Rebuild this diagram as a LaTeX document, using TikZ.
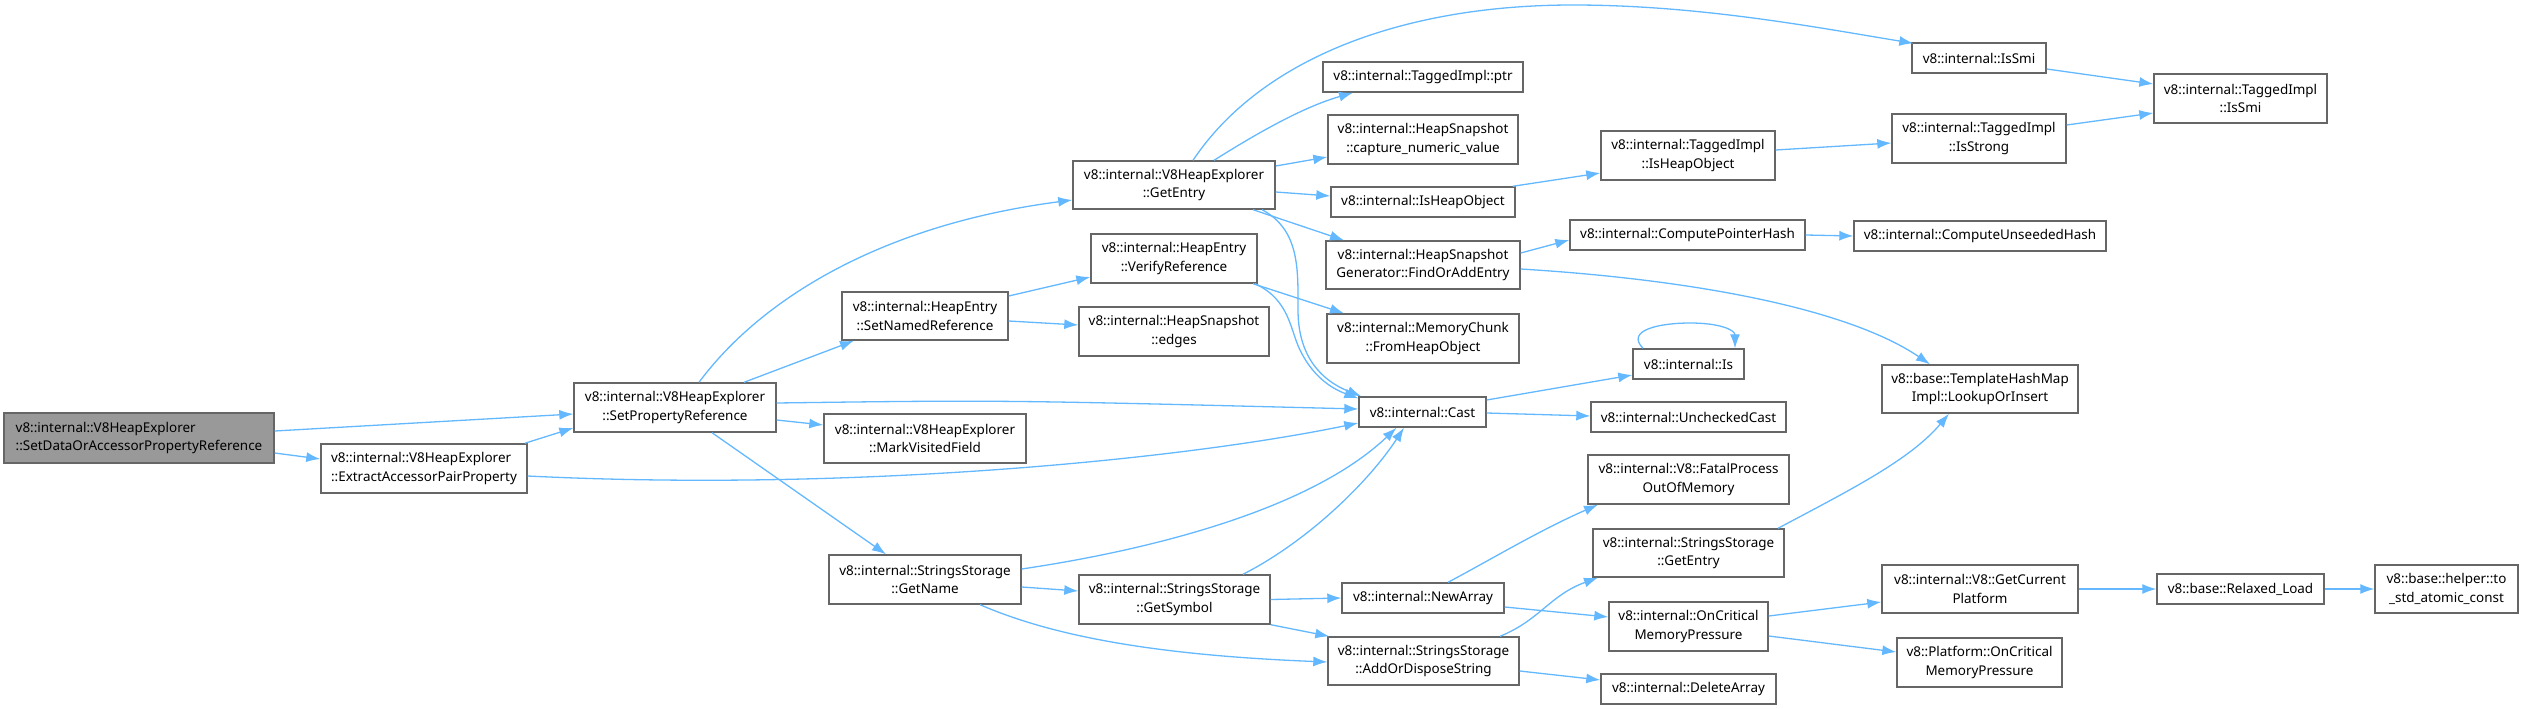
\documentclass[tikz,border=0pt]{standalone}
\usepackage{fontspec}
\setmainfont{Noto Sans}
\usetikzlibrary{arrows.meta}
\definecolor{edgeblue}{HTML}{63B8FF}
\definecolor{boxgray}{HTML}{666666}
\definecolor{rootfill}{HTML}{999999}
\tikzset{
  box/.style={draw=boxgray, line width=1.4bp, fill=white, inner sep=0pt, align=center,
    font=\fontsize{13.5}{19}\selectfont, text=black},
  lbox/.style={box, align=left},
  edge/.style={draw=edgeblue, line width=1.3bp, -{Latex[length=14bp,width=10bp]}},
}
\newcommand{\nd}[7][box]{\node[#1, minimum width=#5bp, minimum height=#6bp] (#2) at (#3,#4) {#7};}
\begin{document}
\begin{tikzpicture}[x=1bp,y=-1bp]
\useasboundingbox (0,0) rectangle (2524,709);
% nodes
\nd[lbox,fill=rootfill]{sdap}{139}{438}{270}{50}{v8::internal::V8HeapExplorer\\::SetDataOrAccessorPropertyReference}
\nd[lbox]{extr}{424}{468.5}{206}{49}{v8::internal::V8HeapExplorer\\::ExtractAccessorPairProperty}
\nd{spr}{675}{407.5}{202}{49}{v8::internal::V8HeapExplorer\\::SetPropertyReference}
\nd{snr}{925}{316}{166}{48}{v8::internal::HeapEntry\\::SetNamedReference}
\nd{mvf}{925}{438.5}{202}{49}{v8::internal::V8HeapExplorer\\::MarkVisitedField}
\nd{gname}{925}{579.5}{192}{49}{v8::internal::StringsStorage\\::GetName}
\nd{gentry}{1174}{185}{202}{48}{v8::internal::V8HeapExplorer\\::GetEntry}
\nd{vref}{1174}{258.5}{166}{49}{v8::internal::HeapEntry\\::VerifyReference}
\nd{edges}{1174}{331.5}{190}{49}{v8::internal::HeapSnapshot\\::edges}
\nd{gsym}{1174.5}{599.5}{191}{49}{v8::internal::StringsStorage\\::GetSymbol}
\nd{ptr}{1423}{77}{200}{30}{v8::internal::TaggedImpl::ptr}
\nd{capt}{1423}{139.5}{190}{49}{v8::internal::HeapSnapshot\\::capture\_numeric\_value}
\nd{ishobj}{1423}{202}{184}{30}{v8::internal::IsHeapObject}
\nd{foae}{1423}{265}{194}{48}{v8::internal::HeapSnapshot\\Generator::FindOrAddEntry}
\nd{mchunk}{1423}{338.5}{192}{49}{v8::internal::MemoryChunk\\::FromHeapObject}
\nd{cast}{1422.5}{412}{127}{30}{v8::internal::Cast}
\nd{newarr}{1423}{598}{162}{30}{v8::internal::NewArray}
\nd{aods}{1423.5}{661}{191}{48}{v8::internal::StringsStorage\\::AddOrDisposeString}
\nd{tihobj}{1688}{155.5}{174}{49}{v8::internal::TaggedImpl\\::IsHeapObject}
\nd{cph}{1687.5}{235}{235}{30}{v8::internal::ComputePointerHash}
\nd{is}{1688.5}{364}{111}{30}{v8::internal::Is}
\nd{ucast}{1688.5}{417}{195}{30}{v8::internal::UncheckedCast}
\nd{fatal}{1688.5}{479.5}{201}{49}{v8::internal::V8::FatalProcess\\OutOfMemory}
\nd{ssge}{1688.5}{553}{191}{48}{v8::internal::StringsStorage\\::GetEntry}
\nd{ocmp}{1688.5}{626.5}{159}{49}{v8::internal::OnCritical\\MemoryPressure}
\nd{delarr}{1688.5}{689}{175}{30}{v8::internal::DeleteArray}
\nd{issmi}{1979}{58}{134}{30}{v8::internal::IsSmi}
\nd{isstrong}{1979}{138.5}{174}{49}{v8::internal::TaggedImpl\\::IsStrong}
\nd{cuh}{1980}{236}{252}{30}{v8::internal::ComputeUnseededHash}
\nd{loi}{1980}{389}{196}{48}{v8::base::TemplateHashMap\\Impl::LookupOrInsert}
\nd{gcp}{1980}{589}{196}{48}{v8::internal::V8::GetCurrent\\Platform}
\nd{pocmp}{1979.5}{662.5}{165}{49}{v8::Platform::OnCritical\\MemoryPressure}
\nd{tismi}{2240.5}{98.5}{173}{49}{v8::internal::TaggedImpl\\::IsSmi}
\nd{rload}{2240.5}{589}{167}{30}{v8::base::Relaxed\_Load}
\nd{tsac}{2446.5}{589}{143}{48}{v8::base::helper::to\\\_std\_atomic\_const}
% edges
\draw[edge] ([yshift=7bp]sdap.east) -- ([yshift=-6.5bp]spr.west);
\draw[edge] ([yshift=-15bp]sdap.east) -- ([yshift=9.5bp]extr.west);
\draw[edge] ([xshift=-3bp]extr.north east) -- ([yshift=-20.5bp]spr.west);
\draw[edge] ([yshift=-7.5bp]extr.east) .. controls (850,492) and (1180,460) .. ([yshift=-11bp]cast.west);
\draw[edge] ([xshift=24bp]spr.north) .. controls (760,300) and (880,225) .. ([yshift=-15bp]gentry.west);
\draw[edge] ([xshift=69bp]spr.north) -- ([xshift=-71bp]snr.south);
\draw[edge] ([yshift=4.5bp]spr.east) .. controls (1000,400) .. ([yshift=3bp]cast.west);
\draw[edge] ([yshift=-12.5bp]spr.east) -- ([yshift=13.5bp]mvf.west);
\draw[edge] ([xshift=37bp]spr.south) -- ([xshift=-39bp]gname.north);
\draw[edge] ([yshift=20bp]snr.east) -- ([yshift=-18.5bp]vref.west);
\draw[edge] ([yshift=-5bp]snr.east) -- ([yshift=6.5bp]edges.west);
\draw[edge] ([xshift=19bp]gentry.north) .. controls (1260,60) and (1400,5) .. (1573,5) .. controls (1700,5) and (1820,28) .. ([xshift=2bp,yshift=-1bp]issmi.north west);
\draw[edge] ([xshift=40bp]gentry.north) .. controls (1270,125) and (1310,105) .. ([xshift=-70bp]ptr.south);
\draw[edge] ([yshift=19bp]gentry.east) -- ([yshift=-17.5bp]capt.west);
\draw[edge] ([yshift=-7bp]gentry.east) -- ([yshift=6bp]ishobj.west);
\draw[edge] ([xshift=79bp]gentry.south) -- ([xshift=-79bp]foae.north);
\draw[edge] ([xshift=88bp]gentry.south) .. controls (1300,230) and (1298,270) .. (1298,310) .. controls (1298,355) and (1320,380) .. ([xshift=3bp]cast.north west);
\draw[edge] ([xshift=79bp]vref.south) -- ([xshift=-79bp]mchunk.north);
\draw[edge] ([xshift=81bp]vref.south) .. controls (1290,300) and (1290,330) .. (1300,350) .. controls (1312,375) and (1330,388) .. ([yshift=-2bp]cast.north west);
\draw[edge] ([xshift=-3bp]ishobj.north east) -- ([yshift=-17.5bp]tihobj.west);
\draw[edge] ([yshift=5.5bp]tihobj.east) -- ([yshift=-4.5bp]isstrong.west);
\draw[edge] ([yshift=13.5bp]isstrong.east) -- ([yshift=-14.5bp]tismi.west);
\draw[edge] ([yshift=-11bp]issmi.east) -- ([yshift=14.5bp]tismi.west);
\draw[edge] ([yshift=12bp]foae.east) -- ([yshift=-5bp]cph.west);
\draw[edge] (cph.east) -- (cuh.west);
\draw[edge] ([yshift=-4bp]foae.east) .. controls (1700,280) and (1850,310) .. ([xshift=-50bp]loi.north);
\draw[edge] ([yshift=12bp]cast.east) -- ([yshift=-11bp]is.west);
\draw[edge] ([xshift=-45.5bp]is.north) .. controls (1625,330) and (1660,323) .. (1690,323) .. controls (1720,323) and (1735,330) .. ([xshift=46.5bp]is.north);
\draw[edge] ([yshift=-1bp]cast.east) -- ([yshift=1bp]ucast.west);
\draw[edge] ([yshift=10.5bp]gname.east) .. controls (1150,550) and (1310,510) .. ([xshift=-26bp]cast.south);
\draw[edge] ([yshift=-7.5bp]gname.east) -- ([yshift=8.5bp]gsym.west);
\draw[edge] ([xshift=55bp]gname.south) .. controls (1050,635) and (1150,655) .. ([yshift=-1bp]aods.west);
\draw[edge] ([xshift=68.5bp]gsym.north) .. controls (1310,540) and (1370,480) .. ([xshift=-18.5bp]cast.south);
\draw[edge] (gsym.east) -- (newarr.west);
\draw[edge] (gsym.south east) -- ([xshift=2bp]aods.north west);
\draw[edge] ([xshift=25bp]newarr.north) .. controls (1490,560) and (1540,530) .. ([xshift=-90.5bp]fatal.south);
\draw[edge] ([yshift=-9bp]newarr.east) -- ([yshift=9.5bp]ocmp.west);
\draw[edge] ([xshift=76.5bp]aods.north) .. controls (1540,620) and (1550,595) .. ([xshift=-90.5bp]ssge.south);
\draw[edge] ([yshift=-10bp]aods.east) -- ([yshift=9bp]delarr.west);
\draw[edge] ([xshift=89.5bp]ssge.north) .. controls (1850,490) and (1910,460) .. ([xshift=-31bp]loi.south);
\draw[edge] ([yshift=10.5bp]ocmp.east) -- ([yshift=-13bp]gcp.west);
\draw[edge] ([yshift=-9.5bp]ocmp.east) -- ([yshift=10.5bp]pocmp.west);
\draw[edge] (gcp.east) -- (rload.west);
\draw[edge] (rload.east) -- (tsac.west);
\end{tikzpicture}
\end{document}
